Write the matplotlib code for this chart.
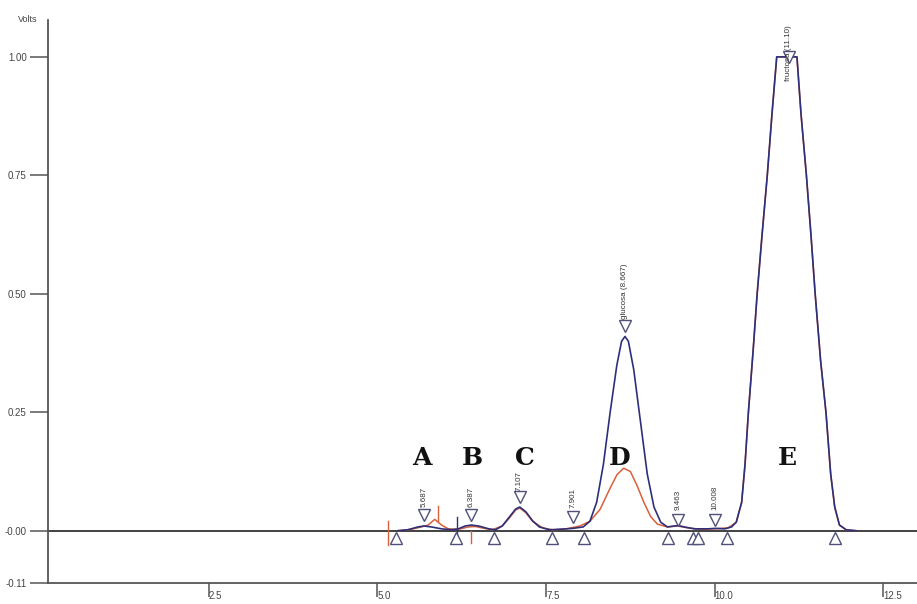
import matplotlib
matplotlib.use("Agg")
import matplotlib.pyplot as plt

# ---- data ----
blue_t = [5.30, 5.45, 5.60, 5.69, 5.80, 5.95, 6.10, 6.20, 6.30, 6.39, 6.50, 6.65, 6.75,
          6.85, 6.95, 7.05, 7.11, 7.20, 7.30, 7.40, 7.55, 7.70, 7.90, 8.05, 8.15, 8.25,
          8.35, 8.45, 8.55, 8.62, 8.67, 8.72, 8.80, 8.90, 9.00, 9.10, 9.20, 9.30, 9.40,
          9.46, 9.55, 9.70, 9.90, 10.01, 10.15, 10.25, 10.32, 10.40, 10.45, 10.50, 10.57,
          10.63, 10.70, 10.78, 10.85, 10.92, 11.22, 11.28, 11.36, 11.43, 11.49, 11.57,
          11.65, 11.72, 11.78, 11.85, 11.95, 12.10]
blue_v = [0.000, 0.002, 0.008, 0.010, 0.008, 0.004, 0.002, 0.004, 0.010, 0.012, 0.010, 0.004, 0.002,
          0.010, 0.028, 0.046, 0.050, 0.040, 0.021, 0.008, 0.002, 0.003, 0.005, 0.008, 0.020, 0.060,
          0.140, 0.250, 0.350, 0.400, 0.410, 0.400, 0.340, 0.230, 0.120, 0.050, 0.018, 0.008, 0.010,
          0.011, 0.008, 0.004, 0.004, 0.005, 0.004, 0.008, 0.018, 0.060, 0.140, 0.250, 0.380,
          0.500, 0.620, 0.750, 0.880, 1.000, 1.000, 0.880, 0.750, 0.620, 0.500, 0.360,
          0.250, 0.120, 0.050, 0.012, 0.002, 0.000]

red_t = [5.30, 5.50, 5.65, 5.75, 5.85, 5.95, 6.05, 6.20, 6.35, 6.45, 6.55, 6.70, 6.85,
         6.95, 7.05, 7.11, 7.20, 7.30, 7.45, 7.60, 7.80, 8.00, 8.15, 8.30, 8.45, 8.55,
         8.65, 8.75, 8.85, 8.95, 9.05, 9.15, 9.30, 9.45, 9.60, 9.80, 10.00, 10.20, 10.32,
         10.40, 10.45, 10.50, 10.57, 10.63, 10.70, 10.78, 10.85, 10.92, 11.22, 11.28, 11.36,
         11.43, 11.49, 11.57, 11.65, 11.72, 11.78, 11.85, 11.95, 12.10]
red_v = [0.000, 0.003, 0.008, 0.012, 0.024, 0.012, 0.004, 0.003, 0.008, 0.009, 0.006, 0.002, 0.010,
         0.026, 0.044, 0.048, 0.038, 0.020, 0.006, 0.002, 0.004, 0.010, 0.020, 0.045, 0.090, 0.118,
         0.132, 0.125, 0.095, 0.060, 0.030, 0.014, 0.008, 0.010, 0.006, 0.003, 0.004, 0.006, 0.018,
         0.060, 0.140, 0.250, 0.380, 0.500, 0.620, 0.750, 0.880, 1.000, 1.000, 0.880, 0.750,
         0.620, 0.500, 0.360, 0.250, 0.120, 0.050, 0.012, 0.002, 0.000]

peak_t = [5.687, 6.387, 7.107, 7.901, 8.667, 9.463, 10.008, 11.10]
peak_marker_v = [0.034, 0.034, 0.072, 0.030, 0.433, 0.023, 0.023, 1.00]
peak_text_v = [0.050, 0.050, 0.083, 0.048, 0.447, 0.044, 0.044, 0.950]
peak_names = ["5.687", "6.387", "7.107", "7.901", "glucosa (8.667)", "9.463", "10.008",
              "fructosa (11.10)"]

base_t = [5.27, 6.16, 6.73, 7.59, 8.06, 9.31, 9.68, 9.75, 10.18, 11.78]
base_v = [-0.015] * len(base_t)

letters = ["A", "B", "C", "D", "E"]
letter_t = [5.66, 6.41, 7.19, 8.59, 11.07]
letter_v = 0.153

x_ticks = [2.5, 5.0, 7.5, 10.0, 12.5]
x_labels = ["2.5", "5.0", "7.5", "10.0", "12.5"]
y_ticks = [-0.11, 0.0, 0.25, 0.50, 0.75, 1.00]
y_labels = ["-0.11", "-0.00", "0.25", "0.50", "0.75", "1.00"]

# ---- figure ----
fig = plt.figure(figsize=(9.17, 6.04), dpi=100)
ax = fig.add_axes([0.052, 0.035, 0.948, 0.932])
ax.set_xlim(0.11, 13.0)
ax.set_ylim(-0.11, 1.078)

for s in ["top", "right"]:
    ax.spines[s].set_visible(False)
for s in ["left", "bottom"]:
    ax.spines[s].set_color("#555555")
    ax.spines[s].set_linewidth(1.3)

ax.axhline(0, color="#333333", lw=1.3, zorder=1)

ax.plot(red_t, red_v, color="#d9603a", lw=1.1, zorder=3)
ax.plot(blue_t, blue_v, color="#2e2f7a", lw=1.2, zorder=4)

# red / blue event ticks
ax.plot([5.15, 5.15], [-0.03, 0.02], color="#d9603a", lw=1.0)
ax.plot([6.38, 6.38], [-0.025, 0.0], color="#d9603a", lw=1.0)
ax.plot([5.90, 5.90], [0.021, 0.052], color="#d9603a", lw=1.0)
ax.plot([6.18, 6.18], [-0.023, 0.03], color="#2e2f7a", lw=1.0)

ax.plot(peak_t, peak_marker_v, linestyle="none", marker="v", markersize=8,
        markerfacecolor="white", markeredgecolor="#50507a", markeredgewidth=1.0, zorder=5)
ax.plot(base_t, base_v, linestyle="none", marker="^", markersize=8,
        markerfacecolor="white", markeredgecolor="#50507a", markeredgewidth=1.0, zorder=5)

for t, v, n in zip(peak_t, peak_text_v, peak_names):
    ax.text(t, v, n, rotation=90, ha="center", va="bottom", fontsize=5.8,
            color="#333333", family="Liberation Sans", zorder=6)

for l, t in zip(letters, letter_t):
    ax.text(t, letter_v, l, ha="center", va="center", fontsize=18, fontweight="bold",
            family="DejaVu Serif", color="#111111")

ax.set_xticks(x_ticks)
ax.set_xticklabels(x_labels, ha="left")
ax.set_yticks(y_ticks)
ax.set_yticklabels(y_labels)
ax.tick_params(axis="x", length=10, width=1.1, color="#555555", labelsize=7,
               labelcolor="#444444", pad=-4)
ax.tick_params(axis="y", length=13, width=1.1, color="#555555", labelsize=7,
               labelcolor="#444444", pad=2)
for lab in ax.get_xticklabels():
    lab.set_fontfamily("Liberation Sans")
for lab in ax.get_yticklabels():
    lab.set_fontfamily("Liberation Sans")

fig.text(28 / 917, 1 - 20 / 604, "Volts", ha="center", va="center", fontsize=6.5,
         color="#444444", family="Liberation Sans")

fig.savefig("out.png", dpi=100)
